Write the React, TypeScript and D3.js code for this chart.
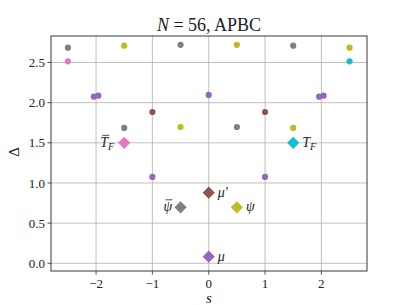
import React from 'react';
import * as d3 from 'd3';

// small round markers: spin s, scaling dimension Delta, colour
const dotS = [-2.5, -0.5, 1.5, -1.5, 0.5, 2.5, -2.5, 2.5, -2.04, -1.96, 0, 1.96, 2.04, -1, 1, -1.5, 0.5, -0.5, 1.5, -1, 1];
const dotD = [2.685, 2.72, 2.71, 2.71, 2.72, 2.685, 2.515, 2.515, 2.075, 2.087, 2.096, 2.075, 2.087, 1.884, 1.884, 1.685, 1.697, 1.697, 1.685, 1.075, 1.075];
const dotC = ['gray', 'gray', 'gray', 'olive', 'olive', 'olive', 'pink', 'cyan', 'purple', 'purple', 'purple', 'purple', 'purple', 'brown', 'brown', 'gray', 'gray', 'olive', 'olive', 'purple', 'purple'];

// primary fields (diamonds)
const primS = [-1.5, 1.5, 0, -0.5, 0.5, 0];
const primD = [1.5, 1.5, 0.879, 0.697, 0.697, 0.082];
const primC = ['pink', 'cyan', 'brown', 'gray', 'olive', 'purple'];
const primLabel = ['T', 'T', "μ′", 'ψ', 'ψ', 'μ'];
const primSub = ['F', 'F', '', '', '', ''];
const primBar = [true, false, false, true, false, false];
const primSide = ['left', 'right', 'right', 'left', 'right', 'right'];

const xTicks = [-2, -1, 0, 1, 2];
const yTicks = [0, 0.5, 1, 1.5, 2, 2.5];

const colors: Record<string, string> = {
  purple: '#9467bd', brown: '#8c564b', pink: '#e377c2',
  gray: '#7f7f7f', olive: '#bcbd22', cyan: '#17becf',
};

const W = 407, H = 305;
const margin = { top: 36, right: 40, bottom: 34, left: 51 };
const font = "'Liberation Serif', 'DejaVu Serif', serif";

export default function App() {
  const w = W - margin.left - margin.right;
  const h = H - margin.top - margin.bottom;
  const x = d3.scaleLinear().domain([-2.8, 2.81]).range([0, w]);
  const y = d3.scaleLinear().domain([-0.096, 2.83]).range([h, 0]);
  const diamond = d3.symbol().type(d3.symbolDiamond2).size(95)();

  return (
    <svg width={W} height={H} style={{ position: 'absolute', left: 0, top: 0, background: '#fff' }}>
      <text x={margin.left + w / 2} y={31} textAnchor="middle" fontFamily={font} fontSize={18} fill="#222">
        <tspan fontStyle="italic">N</tspan>{' = 56, APBC'}
      </text>
      <g transform={`translate(${margin.left},${margin.top})`}>
        {xTicks.map(t => (
          <g key={'x' + t}>
            <line x1={x(t)} x2={x(t)} y1={0} y2={h} stroke="#b0b0b0" strokeWidth={0.8} />
            <line x1={x(t)} x2={x(t)} y1={h} y2={h + 3.5} stroke="#222" strokeWidth={0.8} />
            <text x={x(t)} y={h + 17} textAnchor="middle" fontFamily={font} fontSize={13} fill="#222">
              {t < 0 ? '\u2212' + Math.abs(t) : t}
            </text>
          </g>
        ))}
        {yTicks.map(t => (
          <g key={'y' + t}>
            <line x1={0} x2={w} y1={y(t)} y2={y(t)} stroke="#b0b0b0" strokeWidth={0.8} />
            <line x1={-3.5} x2={0} y1={y(t)} y2={y(t)} stroke="#222" strokeWidth={0.8} />
            <text x={-6} y={y(t)} dy="0.35em" textAnchor="end" fontFamily={font} fontSize={13} fill="#222">
              {t.toFixed(1)}
            </text>
          </g>
        ))}
        {dotS.map((s, i) => (
          <circle key={'d' + i} cx={x(s)} cy={y(dotD[i])} r={3.1} fill={colors[dotC[i]]} />
        ))}
        {primS.map((s, i) => {
          const left = primSide[i] === 'left';
          const lx = x(s) + (left ? (primSub[i] ? -24 : -17) : 9);
          const ly = y(primD[i]) + 4;
          return (
            <g key={'p' + i}>
              <path d={diamond as string} transform={`translate(${x(s)},${y(primD[i])})`} fill={colors[primC[i]]} />
              <text x={lx} y={ly} fontFamily={font} fontSize={14} fontStyle="italic" fill="#222">
                {primLabel[i]}
                {primSub[i] && <tspan fontSize={10} dy={3}>{primSub[i]}</tspan>}
              </text>
              {primBar[i] && (
                <line x1={lx + 2} x2={lx + 9} y1={ly - 11.5} y2={ly - 11.5} stroke="#222" strokeWidth={0.8} />
              )}
            </g>
          );
        })}
        <rect x={0} y={0} width={w} height={h} fill="none" stroke="#222" strokeWidth={0.9} />
      </g>
      <text x={margin.left + w / 2} y={303} textAnchor="middle" fontFamily={font} fontSize={15} fontStyle="italic" fill="#222">s</text>
      <text transform="translate(19,152) rotate(-90)" textAnchor="middle" fontFamily={font} fontSize={15} fill="#222">Δ</text>
    </svg>
  );
}
